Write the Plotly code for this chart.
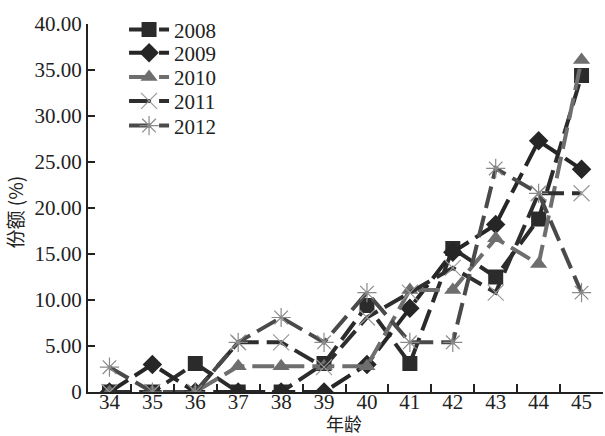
import plotly.graph_objects as go

ages = ["34", "35", "36", "37", "38", "39", "40", "41", "42", "43", "44", "45"]
s2008 = [0, 0, 3.1, 0, 0, 3.1, 9.4, 3.1, 15.6, 12.5, 18.8, 34.4]
s2009 = [0, 3.0, 0, 0, 0, 0, 3.0, 9.1, 15.2, 18.2, 27.3, 24.2]
s2010 = [0, 0, 0, 2.8, 2.8, 2.8, 2.8, 11.1, 11.1, 16.7, 13.9, 36.1]
s2011 = [0, 0, 0, 5.4, 5.4, 2.7, 8.1, 10.8, 13.5, 10.8, 21.6, 21.6]
s2012 = [2.7, 0, 0, 5.4, 8.1, 5.4, 10.8, 5.4, 5.4, 24.3, 21.6, 10.8]
years = ["2008", "2009", "2010", "2011", "2012"]
ytickvals = [0, 5, 10, 15, 20, 25, 30, 35, 40]
yticktext = ["0", "5.00", "10.00", "15.00", "20.00", "25.00", "30.00", "35.00", "40.00"]

series = [s2008, s2009, s2010, s2011, s2012]
line_colors = ["#2b2b2b", "#262626", "#6e6e6e", "#2e2e2e", "#4a4a4a"]
markers = [
    dict(symbol="square", size=15, color="#2b2b2b"),
    dict(symbol="diamond", size=15, color="#262626"),
    dict(symbol="triangle-up", size=15, color="#6e6e6e"),
    dict(symbol="x-thin-open", size=16, color="#9a9a9a", line=dict(width=1.2, color="#9a9a9a")),
    dict(symbol="asterisk-open", size=16, color="#8a8a8a", line=dict(width=1.2, color="#8a8a8a")),
]
legend_ids = ["legend", "legend2", "legend3", "legend4", "legend5"]
legend_rows = [0.984, 0.921, 0.855, 0.79, 0.723]

serif = "Liberation Serif"
fig = go.Figure()
for name, vals, lc, mk, lg in zip(years, series, line_colors, markers, legend_ids):
    fig.add_trace(go.Scatter(
        x=ages, y=vals, name=name, mode="lines+markers",
        line=dict(color=lc, width=4, dash="22px,8px"),
        marker=mk, legend=lg,
    ))

legend_layout = {}
for lg, ly in zip(legend_ids, legend_rows):
    legend_layout[lg] = dict(x=0.07, y=ly, xanchor="left", yanchor="middle",
                             font=dict(family=serif, size=21, color="#222"),
                             bgcolor="rgba(0,0,0,0)", itemwidth=40,
                             borderwidth=0)

fig.update_layout(
    width=605, height=436,
    margin=dict(l=88, r=2, t=24, b=44, autoexpand=False),
    paper_bgcolor="white", plot_bgcolor="white",
    showlegend=True,
    font=dict(family=serif, size=20, color="#222"),
    **legend_layout,
)
fig.update_xaxes(
    type="category", range=[-0.5, 11.5], automargin=False,
    showline=True, linecolor="#222", linewidth=2,
    ticks="inside", ticklen=8, tickwidth=1.5, tickcolor="#222",
    tickson="boundaries", showgrid=False, zeroline=False,
    ticklabelstandoff=-10,
    tickfont=dict(family=serif, size=21, color="#222"),
)
fig.update_yaxes(
    range=[0, 40], tickvals=ytickvals, ticktext=yticktext, automargin=False,
    showline=True, linecolor="#222", linewidth=2,
    ticks="inside", ticklen=7, tickwidth=1.5, tickcolor="#222",
    showgrid=False, zeroline=False,
    tickfont=dict(family=serif, size=21, color="#222"),
)
fig.add_annotation(text="年龄", xref="paper", yref="paper", x=0.497, y=-0.083,
                   xanchor="center", yanchor="middle", showarrow=False,
                   font=dict(family="Noto Sans CJK SC", size=18, color="#222"))
fig.add_annotation(text="份额 (%)", xref="paper", yref="paper", x=-0.142, y=0.49,
                   xanchor="center", yanchor="middle", showarrow=False, textangle=-90,
                   font=dict(family="Noto Sans CJK SC", size=19, color="#222"))

fig.write_html("out.html", config={"displayModeBar": False},
               post_script="document.body.style.margin='0';document.body.style.padding='0';")
